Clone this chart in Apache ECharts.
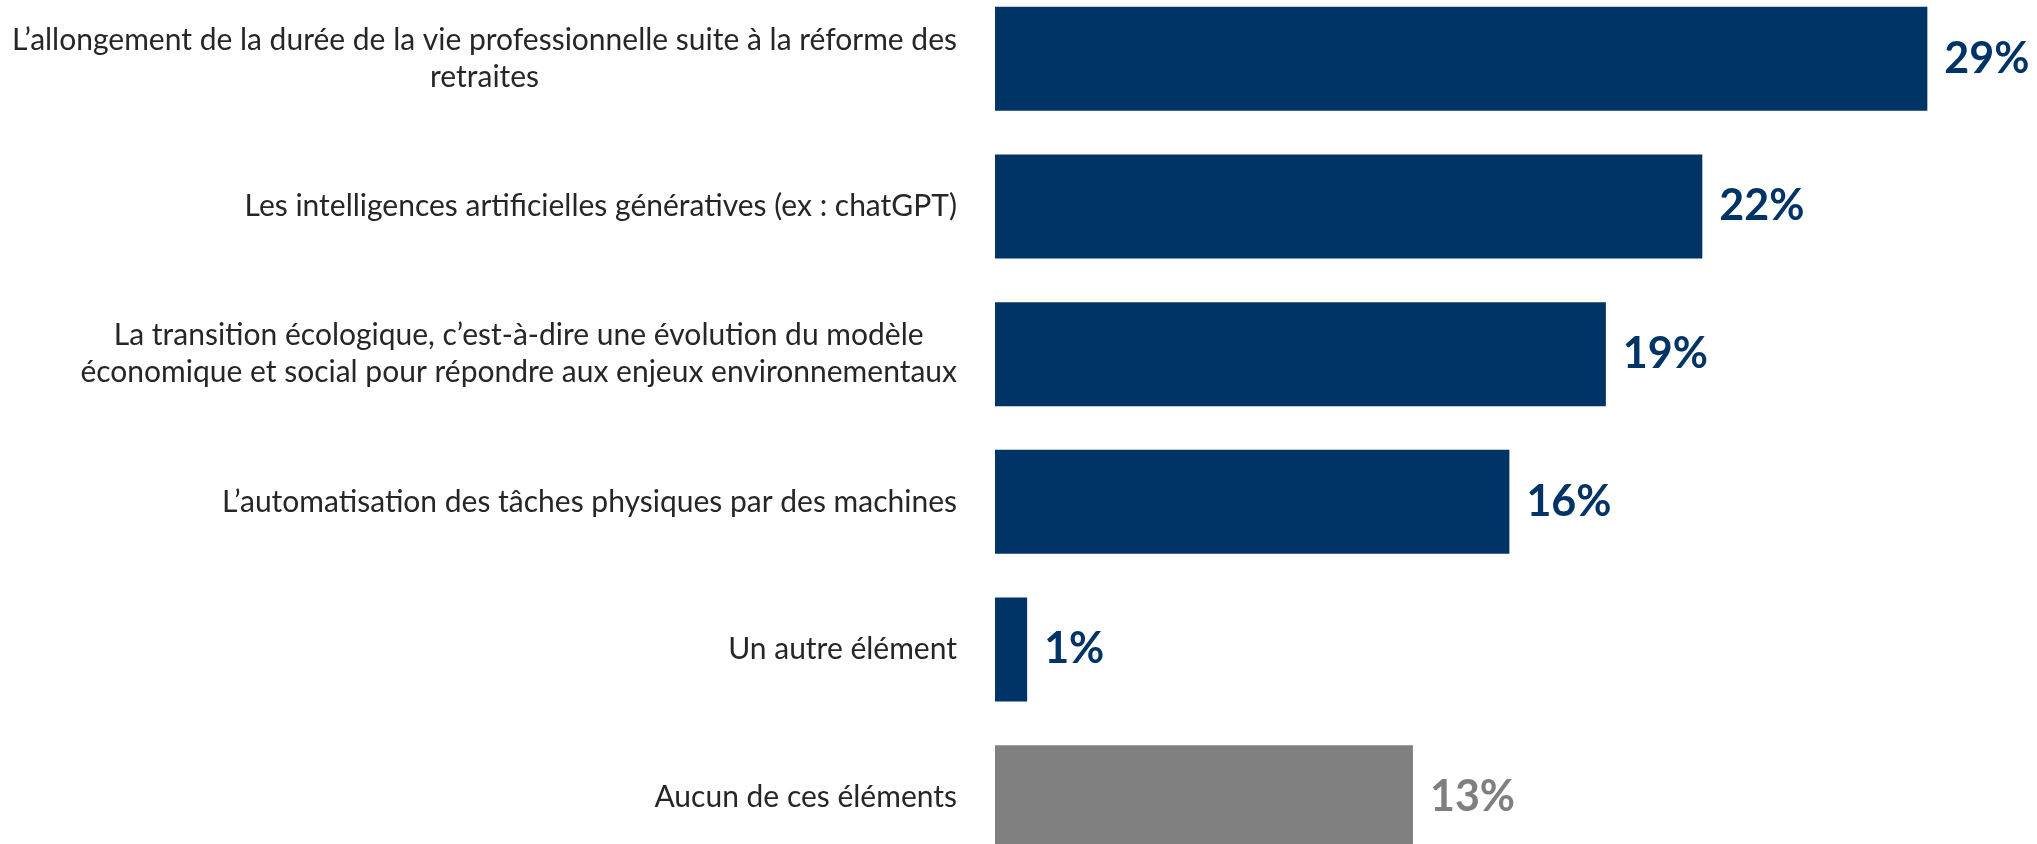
<!DOCTYPE html>
<html>
<head>
<meta charset="utf-8">
<script src="https://cdn.jsdelivr.net/npm/echarts@6/dist/echarts.min.js"></script>
<style>
html, body { margin: 0; padding: 0; background: #fff; }
#chart { width: 2037px; height: 844px; }
</style>
</head>
<body>
<div id="chart"></div>
<script>
var categories = [
  'L’allongement de la durée de la vie professionnelle suite à la réforme des\nretraites',
  'Les intelligences artificielles génératives (ex : chatGPT)',
  'La transition écologique, c’est-à-dire une évolution du modèle\néconomique et social pour répondre aux enjeux environnementaux',
  'L’automatisation des tâches physiques par des machines',
  'Un autre élément',
  'Aucun de ces éléments'
];
var values = [29, 22, 19, 16, 1, 13];

var navy = '#003366';
var grey = '#808080';
var font = 'Lato, "Open Sans", sans-serif';

var chart = echarts.init(document.getElementById('chart'));
chart.setOption({
  animation: false,
  grid: {
    left: 995,
    top: -15,
    width: 1286,
    height: 886,
    outerBoundsMode: 'none'
  },
  xAxis: {
    type: 'value',
    min: 0,
    max: 40,
    show: false
  },
  yAxis: {
    type: 'category',
    inverse: true,
    data: categories,
    axisLine: { show: false },
    axisTick: { show: false },
    axisLabel: {
      margin: 38,
      align: 'right',
      formatter: function (v) {
        return v.split('\n').map(function (s) { return '{c|' + s + '}'; }).join('\n');
      },
      rich: {
        c: {
          align: 'center',
          fontFamily: font,
          fontSize: 30,
          lineHeight: 37,
          color: '#262626'
        }
      }
    }
  },
  series: [{
    type: 'bar',
    barWidth: 104,
    itemStyle: {
      color: function (p) { return p.dataIndex === categories.length - 1 ? grey : navy; }
    },
    label: {
      show: true,
      position: 'right',
      distance: 17,
      formatter: '{c}%',
      fontFamily: font,
      fontWeight: 'bold',
      fontSize: 43
    },
    // label colour per bar
    data: values.map(function (v, i) {
      return {
        value: v,
        label: { color: i === categories.length - 1 ? '#7F7F7F' : navy }
      };
    })
  }]
});
</script>
</body>
</html>
